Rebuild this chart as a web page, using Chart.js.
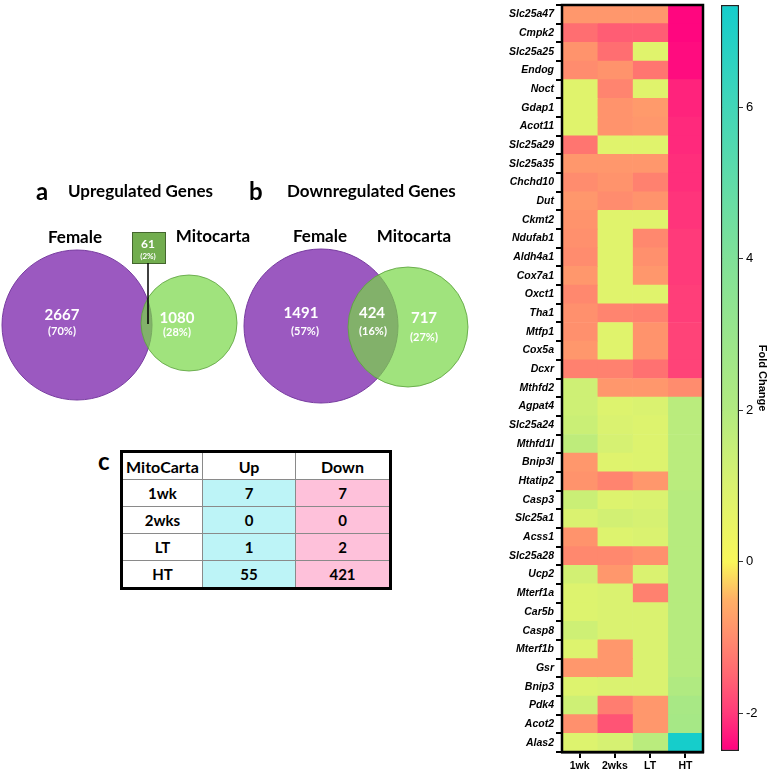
<!DOCTYPE html>
<html>
<head>
<meta charset="utf-8">
<script src="https://cdn.jsdelivr.net/npm/chart.js@4.4.1/dist/chart.umd.min.js"></script>
<style>
  html, body { margin: 0; padding: 0; background: #fff; }
  body { width: 777px; height: 771px; position: relative; overflow: hidden; font-family: Lato, "Open Sans", sans-serif; }
  canvas { position: absolute; }
  #venn { left: 0; top: 150px; }
  #heat { left: 500px; top: 0; }
  #cbar { left: 700px; top: 0; }
  #panelC { position: absolute; left: 98px; top: 446px; font-weight: bold; font-size: 24px; }
  #tbl { position: absolute; left: 120px; top: 450px; border-collapse: collapse; table-layout: fixed; width: 264px; border: 3px solid #000; font-weight: bold; }
  #tbl td { border: 1px solid #8a8a8a; height: 26px; padding: 0; text-align: center; font-size: 15px; }
  #tbl tr:first-child td { font-size: 16px; background: #fff; }
  #tbl td.up { background: #bdf4f7; }
  #tbl td.down { background: #fec1da; }
</style>
</head>
<body>
<canvas id="venn" width="480" height="270"></canvas>
<div id="panelC">c</div>
<table id="tbl"></table>
<canvas id="heat" width="215" height="771"></canvas>
<canvas id="cbar" width="77" height="771"></canvas>
<script>
// ---- data ----
const vennUpCounts = [2667, 61, 1080];      // female only, shared, mitocarta only
const vennUpPct = [70, 2, 28];
const vennDownCounts = [1491, 424, 717];
const vennDownPct = [57, 16, 27];

const tableRows = ['1wk', '2wks', 'LT', 'HT'];
const upCounts = [7, 0, 1, 55];
const downCounts = [7, 0, 2, 421];

const columns = ['1wk', '2wks', 'LT', 'HT'];
const genes = ['Slc25a47','Cmpk2','Slc25a25','Endog','Noct','Gdap1','Acot11','Slc25a29','Slc25a35','Chchd10',
  'Dut','Ckmt2','Ndufab1','Aldh4a1','Cox7a1','Oxct1','Tha1','Mtfp1','Cox5a','Dcxr',
  'Mthfd2','Agpat4','Slc25a24','Mthfd1l','Bnip3l','Htatip2','Casp3','Slc25a1','Acss1','Slc25a28',
  'Ucp2','Mterf1a','Car5b','Casp8','Mterf1b','Gsr','Bnip3','Pdk4','Acot2','Alas2'];
const wk1Values = [-0.85,-1.4,-0.9,-1.0,0.8,0.8,0.8,-1.3,-0.85,-1.0,
  -0.85,-0.9,-0.95,-1.0,-0.85,-1.05,-0.95,-0.95,-0.85,-1.15,
  1.3,1.3,1.4,1.7,-0.85,-0.9,1.4,1.0,-0.9,-1.05,
  1.2,0.9,0.9,1.3,0.9,-0.85,0.9,1.3,-0.95,0.9];
const wks2Values = [-0.85,-1.6,-1.4,-0.9,-1.1,-0.9,-0.9,0.8,-0.85,-0.9,
  -1.0,0.8,0.8,0.8,0.8,0.8,-1.1,0.8,0.8,-1.15,
  -0.85,0.9,1.0,1.1,0.85,-1.1,0.9,1.2,0.9,-1.05,
  -0.85,1.0,1.0,1.0,-0.85,-0.85,1.0,-1.2,-1.7,1.1];
const ltValues = [-0.85,-1.6,0.8,-1.3,0.8,-0.8,-0.85,0.8,-0.85,-1.15,
  -0.9,0.8,-1.05,-0.95,-0.85,0.8,-1.15,-0.9,-0.9,-1.35,
  -0.85,1.0,0.9,0.9,0.9,-0.85,1.0,1.1,1.0,-0.95,
  1.0,-1.15,1.0,1.0,1.0,1.0,1.0,-0.85,-0.85,1.8];
const htValues = [-2.45,-2.45,-2.4,-2.4,-2.2,-2.2,-2.15,-2.15,-2.1,-2.1,
  -2.05,-2.05,-2.0,-2.0,-2.0,-1.95,-1.95,-1.9,-1.9,-1.9,
  -1.0,1.8,1.8,1.8,1.8,1.8,1.9,1.9,1.9,1.9,
  1.9,1.9,1.9,1.9,1.9,1.9,2.1,2.4,2.5,7.3];
const colorbarTicks = [-2, 0, 2, 4, 6];

// ---- colour scale ----
const cbMin = -2.5, cbMax = 7.35;
const cmapStops = [-2.5, -2, -1.5, -1, -0.5, 0, 1, 2, 4, 6, 7.35];
const cmapColors = ['#ff0080','#ff3a7a','#ff6672','#ff8c6e','#ffb066','#f9f75a','#daf270','#b2ea80','#80e198','#42d6b8','#14cdcc'];

function hexRgb(h) { return [1, 3, 5].map(i => parseInt(h.slice(i, i + 2), 16)); }
function colorFor(v) {
  v = Math.max(cbMin, Math.min(cbMax, v));
  for (let i = 0; i < cmapStops.length - 1; i++) {
    if (v <= cmapStops[i + 1]) {
      const t = (v - cmapStops[i]) / (cmapStops[i + 1] - cmapStops[i]);
      const a = hexRgb(cmapColors[i]), b = hexRgb(cmapColors[i + 1]);
      const c = a.map((x, k) => Math.round(x + (b[k] - x) * t));
      return `rgb(${c[0]},${c[1]},${c[2]})`;
    }
  }
  return cmapColors[cmapColors.length - 1];
}

Chart.defaults.animation = false;
Chart.defaults.events = [];
Chart.defaults.plugins.legend.display = false;
Chart.defaults.plugins.tooltip.enabled = false;
Chart.defaults.color = '#000';

// ---- a / b : venn diagrams (1 axis unit = 1 px) ----
const femaleCircles = [{ x: 77, y: 175, r: 75 }, { x: 321, y: 176, r: 77 }];
const mitoCircles = [{ x: 189, y: 173, r: 48 }, { x: 408, y: 177, r: 60 }];

const vennText = {
  id: 'vennText',
  afterDatasetsDraw(chart) {
    const { ctx, scales: { x, y } } = chart;
    const put = (txt, px, py, size, color, align) => {
      ctx.font = `bold ${size}px Lato, "Open Sans", sans-serif`;
      ctx.fillStyle = color;
      ctx.textAlign = align || 'center';
      ctx.textBaseline = 'middle';
      ctx.fillText(txt, x.getPixelForValue(px), y.getPixelForValue(py));
    };
    ctx.save();
    // callout box for shared up genes
    ctx.fillStyle = '#72ad4f';
    ctx.strokeStyle = '#44662e';
    ctx.lineWidth = 1;
    const bx = x.getPixelForValue(132), by = y.getPixelForValue(82);
    const bw = x.getPixelForValue(165) - bx, bh = y.getPixelForValue(113) - by;
    ctx.fillRect(bx, by, bw, bh);
    ctx.strokeRect(bx + 0.5, by + 0.5, bw, bh);
    ctx.strokeStyle = '#000';
    ctx.lineWidth = 1.5;
    ctx.beginPath();
    ctx.moveTo(x.getPixelForValue(148), y.getPixelForValue(113));
    ctx.lineTo(x.getPixelForValue(148), y.getPixelForValue(174));
    ctx.stroke();

    put('a', 36, 42, 24, '#000', 'left');
    put('Upregulated Genes', 68, 42, 17, '#000', 'left');
    put('b', 249, 42, 24, '#000', 'left');
    put('Downregulated Genes', 287, 42, 17, '#000', 'left');
    put('Female', 75, 88, 17, '#000');
    put('Mitocarta', 213, 87, 17, '#000');
    put('Female', 320, 87, 17, '#000');
    put('Mitocarta', 414, 87, 17, '#000');

    put(String(vennUpCounts[1]), 148, 94, 12, '#fff');
    put(`(${vennUpPct[1]}%)`, 148, 106, 8, '#fff');
    put(String(vennUpCounts[0]), 62, 165, 15, '#fff');
    put(`(${vennUpPct[0]}%)`, 62, 181, 11, '#fff');
    put(String(vennUpCounts[2]), 177, 168, 15, '#fff');
    put(`(${vennUpPct[2]}%)`, 177, 182, 11, '#fff');

    put(String(vennDownCounts[0]), 301, 163, 15, '#fff');
    put(`(${vennDownPct[0]}%)`, 305, 181, 11, '#fff');
    put(String(vennDownCounts[1]), 372, 163, 15, '#fff');
    put(`(${vennDownPct[1]}%)`, 373, 181, 11, '#fff');
    put(String(vennDownCounts[2]), 424, 168, 15, '#fff');
    put(`(${vennDownPct[2]}%)`, 424, 187, 11, '#fff');
    ctx.restore();
  }
};

new Chart(document.getElementById('venn'), {
  type: 'bubble',
  data: {
    datasets: [
      { label: 'Mitocarta', data: mitoCircles, backgroundColor: 'rgba(120,215,70,0.7)', borderColor: 'rgba(90,160,60,0.8)', borderWidth: 1 },
      { label: 'Female', data: femaleCircles, backgroundColor: 'rgb(155,89,192)', borderColor: 'rgb(120,60,160)', borderWidth: 1 }
    ]
  },
  options: {
    responsive: false,
    devicePixelRatio: 1,
    layout: { autoPadding: false, padding: 0 },
    clip: false,
    scales: {
      x: { type: 'linear', min: 0, max: 480, display: false },
      y: { type: 'linear', min: 0, max: 270, reverse: true, display: false }
    }
  },
  plugins: [vennText]
});

// ---- c : table ----
const tbl = document.getElementById('tbl');
const head = tbl.insertRow();
[['MitoCarta', 79], ['Up', 92], ['Down', 93]].forEach(([t, w]) => {
  const td = head.insertCell(); td.textContent = t; td.style.width = w + 'px';
});
tableRows.forEach((r, i) => {
  const tr = tbl.insertRow();
  tr.insertCell().textContent = r;
  const u = tr.insertCell(); u.textContent = upCounts[i]; u.className = 'up';
  const d = tr.insertCell(); d.textContent = downCounts[i]; d.className = 'down';
});

// ---- d : heatmap ----
const columnValues = [wk1Values, wks2Values, ltValues, htValues];
const frame = {
  id: 'frame',
  afterDatasetsDraw(chart, args, opts) {
    const { ctx, chartArea: a } = chart;
    ctx.save();
    ctx.strokeStyle = '#000';
    ctx.lineWidth = opts.width;
    ctx.strokeRect(a.left, a.top, a.right - a.left, a.bottom - a.top);
    ctx.restore();
  }
};

new Chart(document.getElementById('heat'), {
  type: 'bar',
  data: {
    labels: genes,
    datasets: columnValues.map((vals, c) => ({
      label: columns[c],
      data: genes.map(() => [c, c + 1]),
      backgroundColor: vals.map(colorFor),
      borderWidth: 0
    }))
  },
  options: {
    indexAxis: 'y',
    responsive: false,
    devicePixelRatio: 1,
    layout: { padding: { top: 5, right: 12, left: 0, bottom: 0 } },
    datasets: { bar: { grouped: false, barPercentage: 1, categoryPercentage: 1 } },
    scales: {
      y: {
        type: 'category',
        afterFit: s => { s.width = 62; s.paddingTop = 0; s.paddingBottom = 0; },
        grid: { drawOnChartArea: false, tickLength: 6, color: '#000', lineWidth: 2 },
        border: { display: true, color: '#000', width: 2.5 },
        ticks: { padding: 2, autoSkip: false, font: { family: '"Liberation Sans", Arial, sans-serif', size: 10.5, weight: 'bold', style: 'italic' }, color: '#000' }
      },
      x: {
        type: 'linear', min: 0, max: 4,
        afterFit: s => { s.height = 19; },
        afterBuildTicks: s => { s.ticks = columns.map((c, i) => ({ value: i + 0.5 })); },
        grid: { drawOnChartArea: false, tickLength: 6, color: '#000', lineWidth: 2 },
        border: { display: true, color: '#000', width: 2.5 },
        ticks: { padding: 2, maxRotation: 0, callback: v => columns[Math.floor(v)], font: { family: '"Liberation Sans", Arial, sans-serif', size: 10.5, weight: 'bold' }, color: '#000' }
      }
    },
    plugins: { frame: { width: 2.5 } }
  },
  plugins: [frame]
});

// ---- colour bar ----
new Chart(document.getElementById('cbar'), {
  type: 'bar',
  data: {
    labels: [''],
    datasets: [{
      data: [[cbMin, cbMax]],
      backgroundColor: ctx => {
        const { chart } = ctx;
        if (!chart.chartArea) return null;
        const ys = chart.scales.y;
        const g = chart.ctx.createLinearGradient(0, ys.getPixelForValue(cbMin), 0, ys.getPixelForValue(cbMax));
        cmapStops.forEach((v, i) => g.addColorStop((v - cbMin) / (cbMax - cbMin), cmapColors[i]));
        return g;
      },
      borderColor: '#222',
      borderWidth: 1.5,
      borderSkipped: false,
      barPercentage: 1,
      categoryPercentage: 1
    }]
  },
  options: {
    responsive: false,
    devicePixelRatio: 1,
    layout: { padding: { top: 5, bottom: 20, left: 21, right: 8 } },
    scales: {
      x: { display: false },
      y: {
        type: 'linear', position: 'right', min: cbMin, max: cbMax,
        afterFit: s => { s.width = 30; s.paddingTop = 0; s.paddingBottom = 0; },
        afterBuildTicks: s => { s.ticks = colorbarTicks.map(v => ({ value: v })); },
        grid: { drawOnChartArea: true, color: '#333', lineWidth: 1, tickLength: 4, borderDash: [3, 100] },
        border: { display: false },
        ticks: { padding: 3, font: { family: '"Liberation Sans", Arial, sans-serif', size: 13 }, color: '#000' },
        title: { display: true, text: 'Fold Change', padding: 0, font: { family: '"Liberation Sans", Arial, sans-serif', size: 11, weight: 'bold' }, color: '#000' }
      }
    }
  }
});
</script>
</body>
</html>
